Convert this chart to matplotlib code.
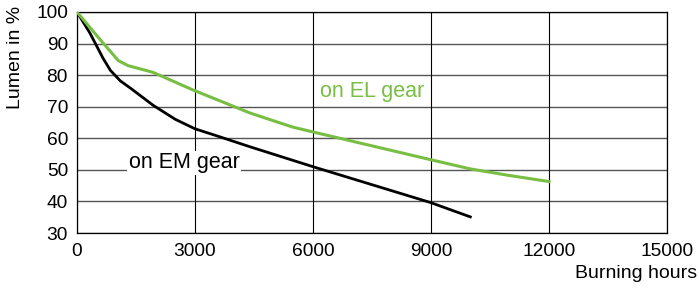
import matplotlib.pyplot as plt

plt.rcParams['font.family'] = ['Liberation Sans', 'DejaVu Sans']

# burning hours / lumen %
em_hours = [0, 330, 660, 850, 1100, 1400, 1930, 2500, 3000, 3500, 4400, 6000, 9000, 10000]
em_lumen = [100, 93.3, 85.4, 81.5, 78.2, 75.5, 70.5, 66, 63, 61, 57.3, 51, 39.6, 35.1]

el_hours = [0, 660, 850, 1050, 1300, 1600, 1930, 2950, 4400, 5470, 6000, 9000, 10000, 11000, 12000]
el_lumen = [100, 90.2, 87.5, 84.6, 83.0, 82.0, 80.9, 75.3, 68, 63.6, 62, 53.2, 50.3, 48.2, 46.3]

x_ticks = [0, 3000, 6000, 9000, 12000, 15000]
y_ticks = [30, 40, 50, 60, 70, 80, 90, 100]

green = '#78BE43'

fig = plt.figure(figsize=(6.99, 2.92), dpi=100)
ax = fig.add_axes([77 / 699, 1 - 233 / 292, 590 / 699, 221 / 292])

for y in y_ticks:
    ax.axhline(y, color='#555555', lw=1.0, zorder=1)
for x in x_ticks:
    ax.axvline(x, color='black', lw=0.8, zorder=1)

ax.plot(em_hours, em_lumen, color='black', lw=2.0, zorder=3, solid_joinstyle='round')
ax.plot(el_hours, el_lumen, color=green, lw=2.2, zorder=3, solid_joinstyle='round')

ax.set_xlim(0, 15000)
ax.set_ylim(30, 100)
ax.set_xticks(x_ticks)
ax.set_yticks(y_ticks)
ax.tick_params(length=0, labelsize=13.8)
ax.tick_params(axis='x', pad=7)
ax.tick_params(axis='y', pad=6.5)
for s in ax.spines.values():
    s.set_color('black')
    s.set_linewidth(0.9)

ax.text(2720, 52.2, 'on EM gear', fontsize=15.5, ha='center', va='center', color='black',
        bbox=dict(facecolor='white', edgecolor='none', pad=1), zorder=4)
ax.text(7500, 74.7, 'on EL gear', fontsize=15.5, ha='center', va='center', color=green,
        bbox=dict(facecolor='white', edgecolor='none', pad=1), zorder=4)

fig.text(16 / 699, 1 - 6 / 292, 'Lumen in %', rotation=90, fontsize=14, ha='center', va='top')
fig.text(697 / 699, 1 - 274 / 292, 'Burning hours', fontsize=14, ha='right', va='center')

fig.savefig('out.png', dpi=100)
